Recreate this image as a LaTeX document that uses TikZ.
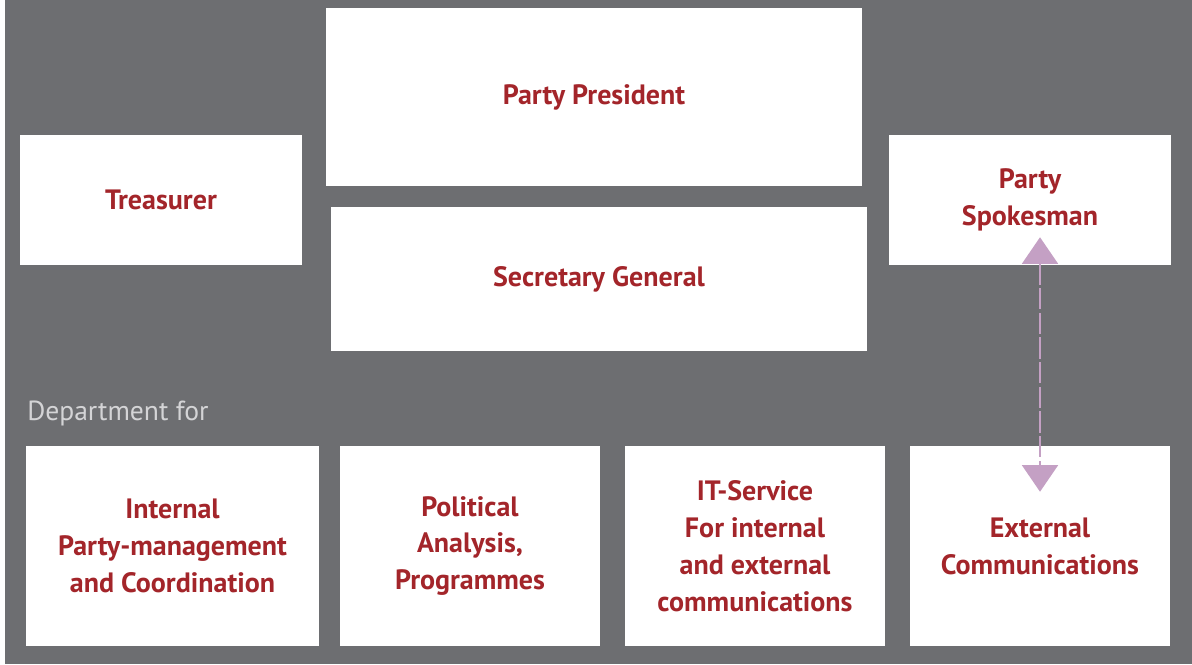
\documentclass[tikz,border=0pt]{standalone}
\usepackage{fontspec}
\setmainfont{PT Sans}
\usepackage{tikz}
\usetikzlibrary{arrows.meta, positioning, calc}

\definecolor{bggrey}{HTML}{6D6E71}
\definecolor{boxred}{HTML}{A3252A}
\definecolor{linkpink}{HTML}{C4A0C4}
\definecolor{labelgrey}{HTML}{D4D4D6}

\begin{document}
\begin{tikzpicture}[x=0.75pt, y=-0.75pt,
    orgbox/.style={fill=white, align=center, text=boxred, inner sep=0pt,
        font=\fontsize{21}{27.6}\selectfont\bfseries},
    topbox/.style={orgbox, minimum width=402pt},
    sidebox/.style={orgbox, minimum width=211.5pt, minimum height=97.5pt},
    deptbox/.style={orgbox, minimum width=195pt, minimum height=150pt},
    link/.style={draw=linkpink, line width=1.5pt, dash pattern=on 16pt off 2.5pt,
        {Triangle[width=27pt, length=20pt]}-{Triangle[width=27pt, length=20pt]}}
]
% background
\fill[white] (0,0) rectangle (1192,664);
\fill[bggrey] (5,0) rectangle (1192,664);

% Leadership (top row)
\node[topbox, minimum height=133.5pt] (pres) at (594,97) {Party President};
\node[topbox, minimum height=108pt] (secgen) at (599,279) {Secretary General};
\node[sidebox] (treas) at (161,200) {Treasurer};
\node[sidebox] (spk) at (1030,200) {Party\\Spokesman};

% Departments (bottom row)
\node[deptbox, minimum width=219.75pt] (dint) at (172.5,546) {Internal\\Party-management\\and Coordination};
\node[deptbox] (dpol) at (470,546) {Political\\Analysis,\\Programmes};
\node[deptbox] (dit) at (755,546) {IT-Service\\For internal\\and external\\communications};
\node[deptbox] (dext) at (1040,546) {External\\Communications};

\node[anchor=base west, inner sep=0pt, text=labelgrey, font=\fontsize{20.7}{22}\selectfont] (dlabel) at (27,420) {Department for};

% Spokesman <-> External Communications
\draw[link] ([yshift=21pt]spk.south -| dext.north) -- ([yshift=-34.5pt]dext.north);

\end{tikzpicture}
\end{document}
